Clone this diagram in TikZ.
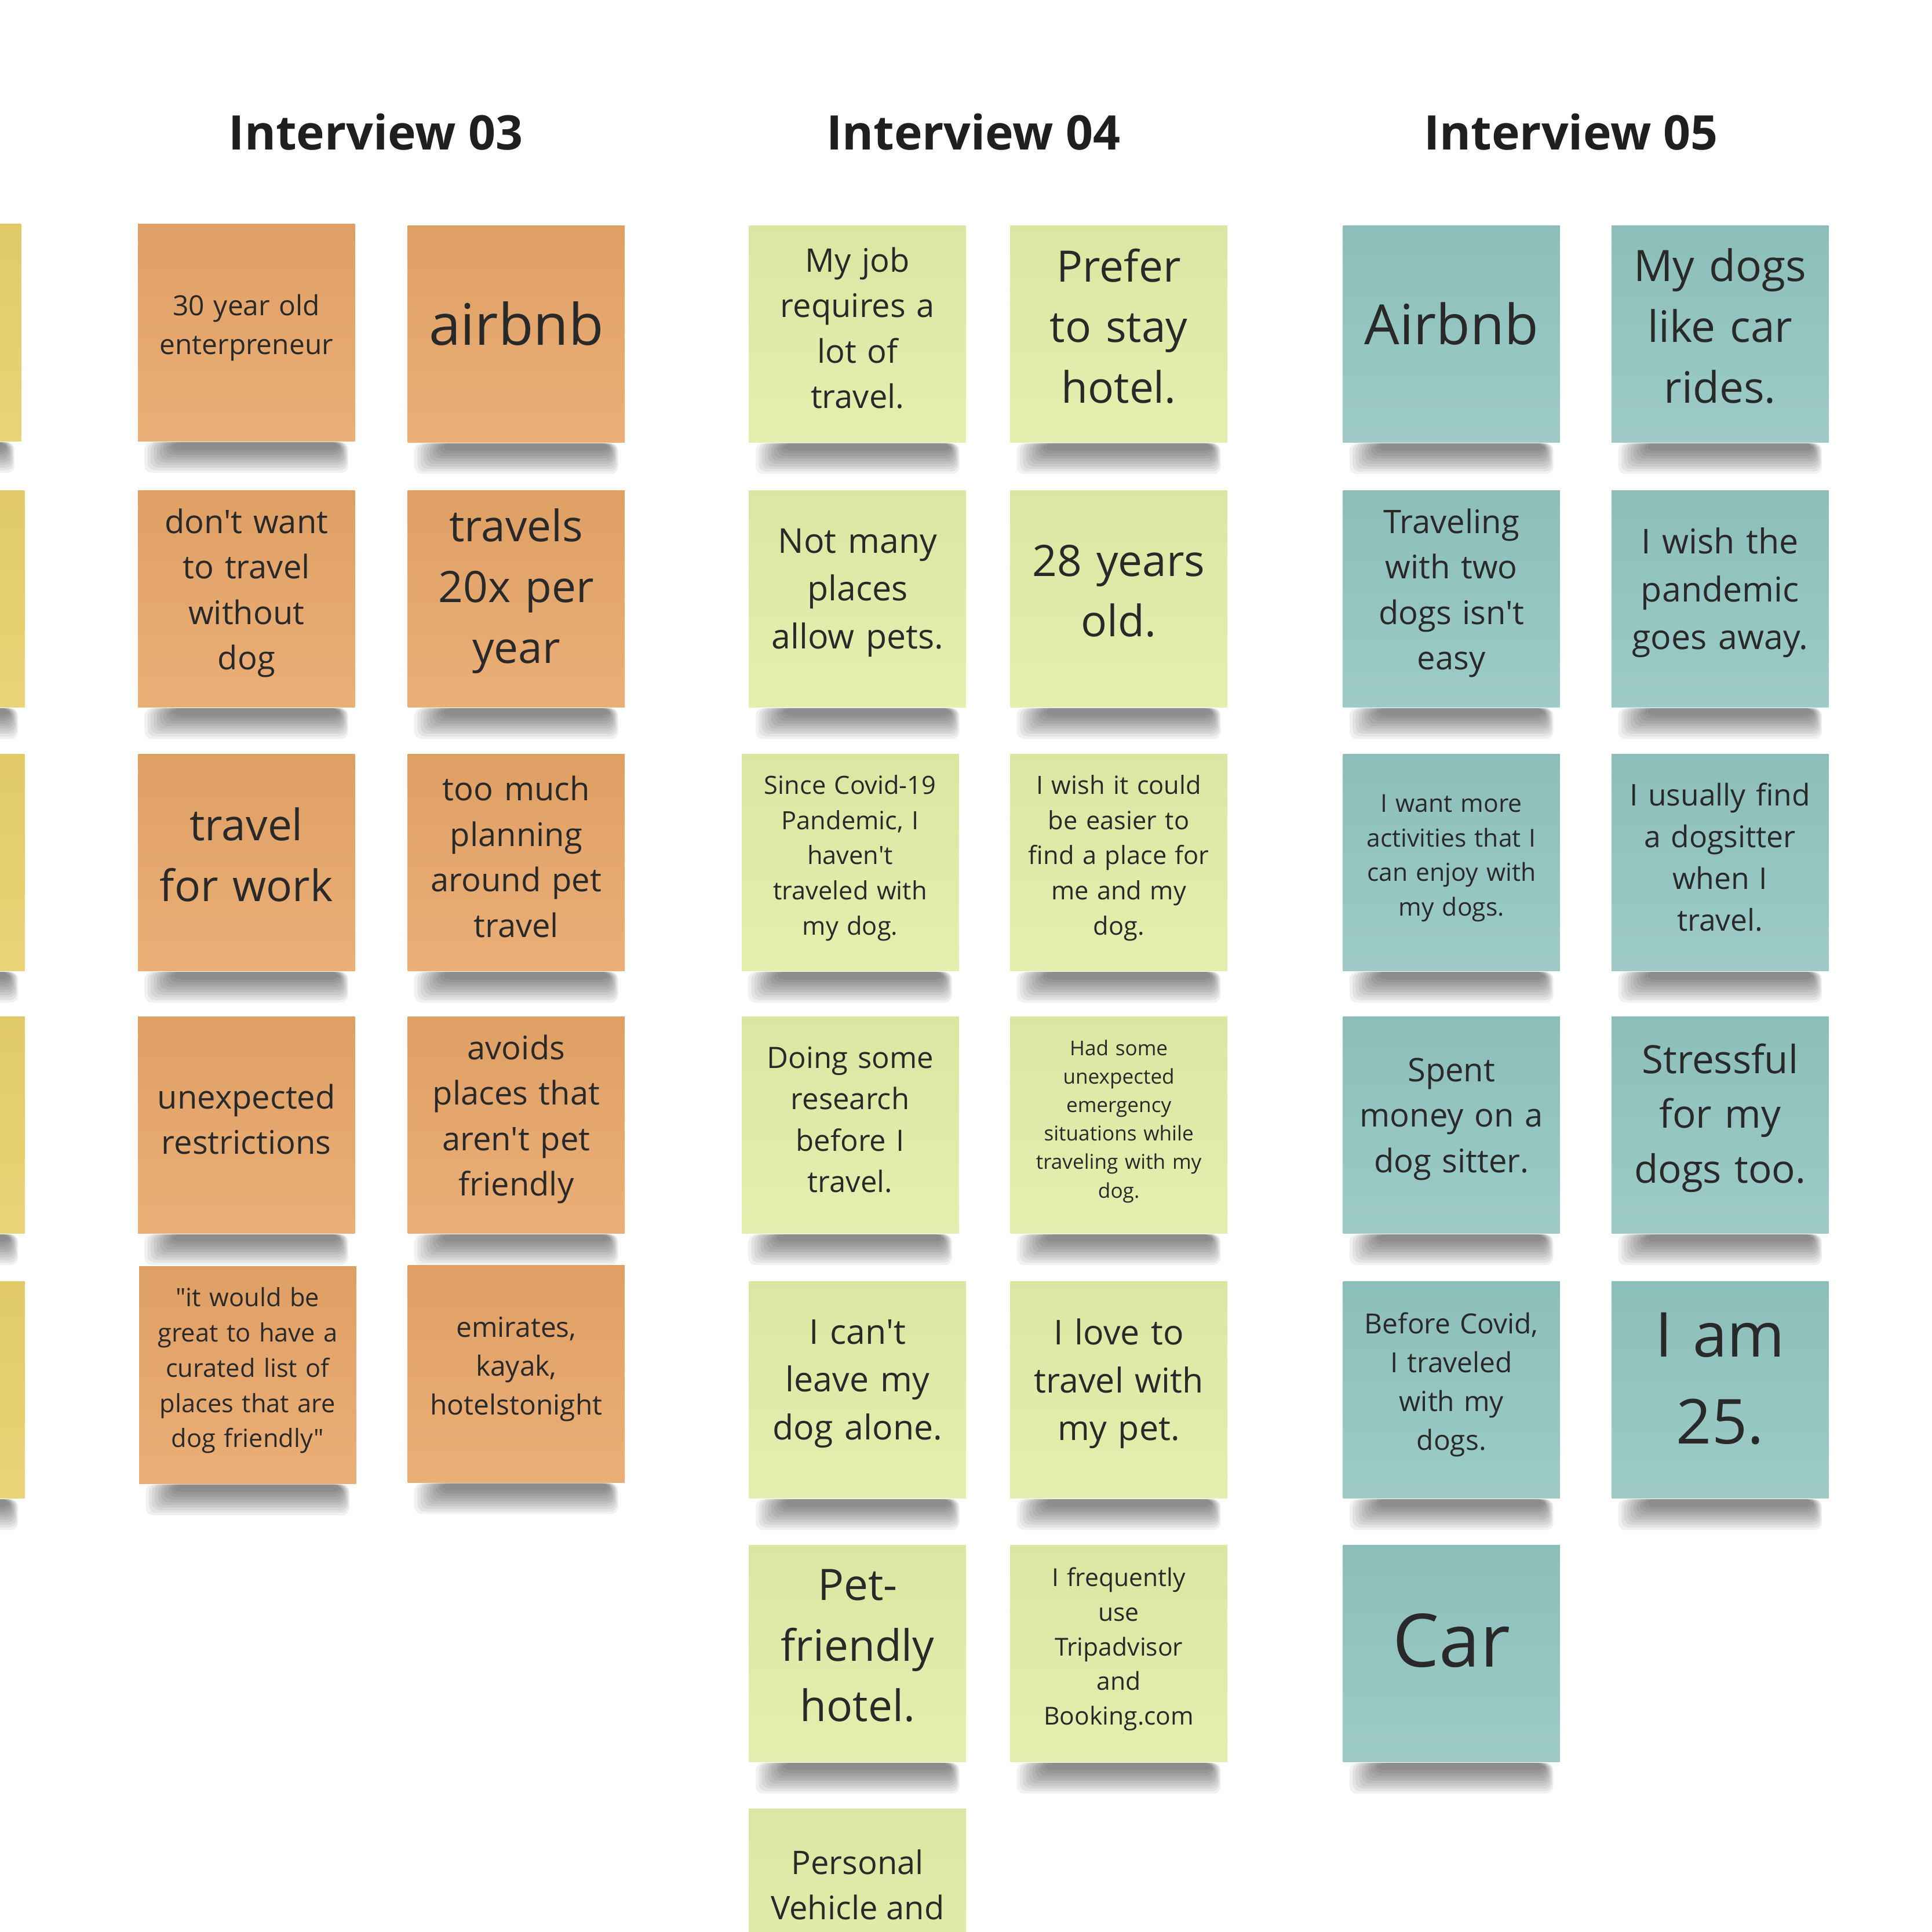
\documentclass[tikz,border=0pt]{standalone}
\usepackage{fontspec}
\setmainfont{Open Sans}[Ligatures=TeXOff]
\usetikzlibrary{positioning}

\definecolor{padorange}{RGB}{232,166,104}
\definecolor{padlime}{RGB}{225,238,167}
\definecolor{padteal}{RGB}{146,198,193}
\definecolor{padyellow}{RGB}{232,208,106}

\tikzset{
  note/.style={minimum width=1.76cm, minimum height=1.76cm, inner sep=0pt,
    text width=1.74cm, align=center, text=black!84,
    execute at end node={\par\vspace*{0.36em}}},
  onote/.style={top color=padorange!96!black, bottom color=padorange!90!white},
  lnote/.style={top color=padlime!97!black, bottom color=padlime!92!white},
  tnote/.style={top color=padteal!96!black, bottom color=padteal!90!white},
  ynote/.style={top color=padyellow!97!black, bottom color=padyellow!92!white},
  fs/.style={font=\fontsize{#1}{\fpeval{1.4*#1}}\selectfont},
  head/.style={font=\fontsize{11}{13}\selectfont\bfseries, text=black!88},
  padshadow/.style={fill=black, opacity=0.055, rounded corners=0.06cm}
}

\begin{document}
\begin{tikzpicture}[x=0.01cm, y=-0.01cm]
\useasboundingbox (0,0) rectangle (1568,1568);
\clip (0,0) rectangle (1568,1568);
\fill[white] (0,0) rectangle (1568,1568);

% headings
\node[head] (h03) at (305,107) {Interview 03};
\node[head] (h04) at (790,107) {Interview 04};
\node[head] (h05) at (1275,107) {Interview 05};

% interview 02 (cut off at the left)
\node[note,ynote] (y1) at (-71,270) {};
\node[note,ynote] (y2) at (-68,486) {};
\node[note,ynote] (y3) at (-68,700) {};
\node[note,ynote] (y4) at (-68,913) {};
\node[note,ynote] (y5) at (-68,1128) {};

% interview 03
\node[note,onote,fs=6.4] (i3r1a) at (200,270) {30 year old\\enterpreneur};
\node[note,onote,fs=13.2] (i3r1b) at (419,271) {airbnb};
\node[note,onote,fs=7.5] (i3r2a) at (200,486) {don't want\\to travel\\without\\dog};
\node[note,onote,fs=10] (i3r2b) at (419,486) {travels\\20x per\\year};
\node[note,onote,fs=10] (i3r3a) at (200,700) {travel\\for work};
\node[note,onote,fs=7.5] (i3r3b) at (419,700) {too much\\planning\\around pet\\travel};
\node[note,onote,fs=7.5] (i3r4a) at (200,913) {unexpected\\restrictions};
\node[note,onote,fs=7.5] (i3r4b) at (419,913) {avoids\\places that\\aren't pet\\friendly};
\node[note,onote,fs=5.8] (i3r5a) at (201,1116) {"it would be\\great to have a\\curated list of\\places that are\\dog friendly"};
\node[note,onote,fs=6.4] (i3r5b) at (419,1115) {emirates,\\kayak,\\hotelstonight};

% interview 04
\node[note,lnote,fs=7.5] (i4r1a) at (696,271) {My job\\requires a\\lot of\\travel.};
\node[note,lnote,fs=10] (i4r1b) at (908,271) {Prefer\\to stay\\hotel.};
\node[note,lnote,fs=7.9] (i4r2a) at (696,486) {Not many\\places\\allow pets.};
\node[note,lnote,fs=10] (i4r2b) at (908,486) {28 years\\old.};
\node[note,lnote,fs=5.8] (i4r3a) at (690,700) {Since Covid-19\\Pandemic, I\\haven't\\traveled with\\my dog.};
\node[note,lnote,fs=5.8] (i4r3b) at (908,700) {I wish it could\\be easier to\\find a place for\\me and my\\dog.};
\node[note,lnote,fs=6.8] (i4r4a) at (690,913) {Doing some\\research\\before I\\travel.};
\node[note,lnote,fs=4.7] (i4r4b) at (908,913) {Had some\\unexpected\\emergency\\situations while\\traveling with my\\dog.};
\node[note,lnote,fs=7.9] (i4r5a) at (696,1128) {I can't\\leave my\\dog alone.};
\node[note,lnote,fs=7.9] (i4r5b) at (908,1128) {I love to\\travel with\\my pet.};
\node[note,lnote,fs=10] (i4r6a) at (696,1342) {Pet-\\friendly\\hotel.};
\node[note,lnote,fs=5.7] (i4r6b) at (908,1342) {I frequently\\use\\Tripadvisor\\and\\Booking.com};
\node[note,lnote] (i4r7a) at (696,1556) {};
\node[fs=7.5, align=center, inner sep=0pt, text=black!84, anchor=north] (i4r7txt)
  at ([yshift=-0.33cm]i4r7a.north) {Personal\\Vehicle and};

% interview 05
\node[note,tnote,fs=12.8] (i5r1a) at (1178,271) {Airbnb};
\node[note,tnote,fs=10] (i5r1b) at (1396,271) {My dogs\\like car\\rides.};
\node[note,tnote,fs=7.5] (i5r2a) at (1178,486) {Traveling\\with two\\dogs isn't\\easy};
\node[note,tnote,fs=7.9] (i5r2b) at (1396,486) {I wish the\\pandemic\\goes away.};
\node[note,tnote,fs=5.7] (i5r3a) at (1178,700) {I want more\\activities that I\\can enjoy with\\my dogs.};
\node[note,tnote,fs=6.9] (i5r3b) at (1396,700) {I usually find\\a dogsitter\\when I\\travel.};
\node[note,tnote,fs=7.5] (i5r4a) at (1178,913) {Spent\\money on a\\dog sitter.};
\node[note,tnote,fs=9] (i5r4b) at (1396,913) {Stressful\\for my\\dogs too.};
\node[note,tnote,fs=6.4] (i5r5a) at (1178,1128) {Before Covid,\\I traveled\\with my\\dogs.};
\node[note,tnote,fs=14.3] (i5r5b) at (1396,1128) {I am\\25.};
\node[note,tnote,fs=17] (i5r6a) at (1178,1342) {Car};

% shadows under the pads
\foreach \n in {y1,y2,y3,y4,y5,i3r1a,i3r1b,i3r2a,i3r2b,i3r3a,i3r3b,i3r4a,i3r4b,i3r5a,i3r5b,
  i4r1a,i4r1b,i4r2a,i4r2b,i4r3a,i4r3b,i4r4a,i4r4b,i4r5a,i4r5b,i4r6a,i4r6b,
  i5r1a,i5r1b,i5r2a,i5r2b,i5r3a,i5r3b,i5r4a,i5r4b,i5r5a,i5r5b,i5r6a}
  \foreach \k in {0,...,9}
    \fill[padshadow] ([xshift=0.06cm+\k*0.025cm]\n.south west)
      rectangle ([xshift=-0.06cm-\k*0.008cm,yshift=-0.25cm+\k*0.021cm]\n.south east);
\end{tikzpicture}
\end{document}
